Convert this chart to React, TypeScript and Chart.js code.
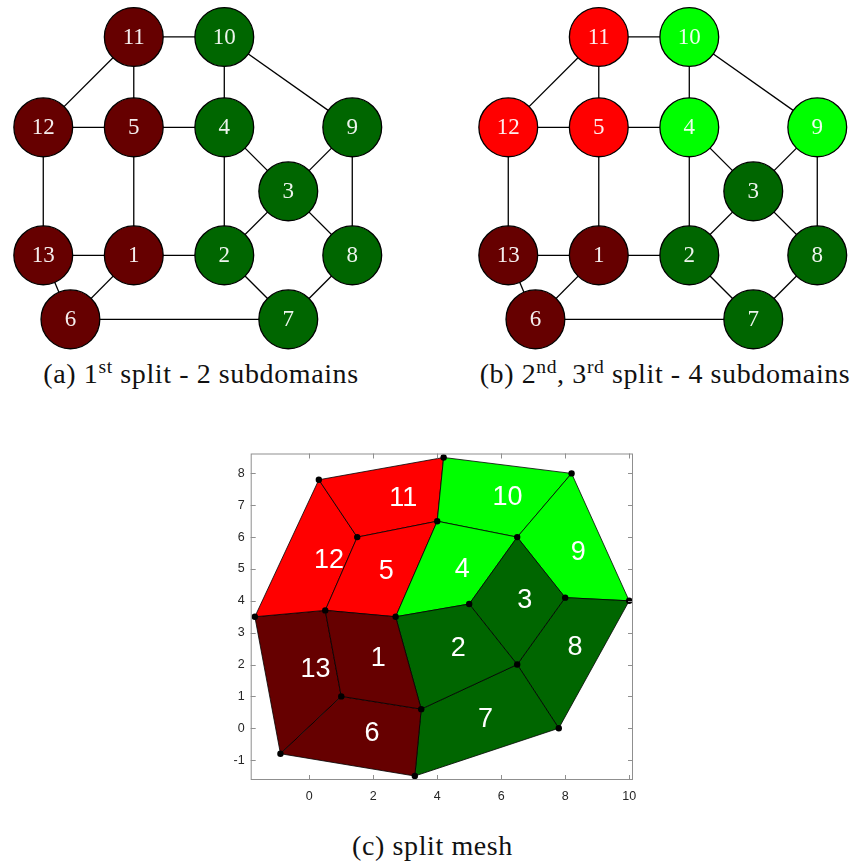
import React, { useEffect, useRef } from "react";
import { Chart, registerables } from "chart.js";

Chart.register(...registerables);

// ---- dual graph of the mesh (node n sits at index n-1) ----
const nodeNames = ["1", "2", "3", "4", "5", "6", "7", "8", "9", "10", "11", "12", "13"];
const nodeX = [1, 2, 2.707, 2, 1, 0.3, 2.707, 3.414, 3.414, 2, 1, 0, 0];
const nodeY = [0.707, 0.707, 1.414, 2.121, 2.121, 0, 0, 0.707, 2.121, 3.12, 3.12, 2.121, 0.707];
const edges: [number, number][] = [
  [11, 10], [11, 12], [11, 5], [10, 4], [10, 9], [12, 5], [5, 4], [12, 13],
  [5, 1], [4, 2], [4, 3], [9, 3], [9, 8], [3, 2], [3, 8], [13, 1], [1, 2],
  [13, 6], [1, 6], [2, 7], [8, 7], [6, 7],
];

// subdomain of every node / cell after each split
const firstSplit = [0, 3, 3, 3, 0, 0, 3, 3, 3, 3, 0, 0, 0];
const secondSplit = [0, 3, 3, 2, 1, 0, 3, 3, 2, 2, 1, 1, 0];
const subdomainColors = ["#660000", "#ff0000", "#00ff00", "#006600"];

// ---- quadrilateral mesh ----
const vertexX = [-1.7, 0.3, 4.2, 8.2, 10, 7.8, 3.3, -0.9, 1.5, 4, 6.5, 8, 6.5, 3.5, 1, 0.5, 2.7, 5];
const vertexY = [3.5, 7.8, 8.5, 8.0, 4, 0, -1.5, -0.8, 6, 6.5, 6, 4.1, 2, 0.6, 1, 3.7, 3.5, 3.9];
const cells = [
  [15, 16, 13, 14], // 1
  [16, 17, 12, 13], // 2
  [17, 10, 11, 12], // 3
  [9, 10, 17, 16], // 4
  [8, 9, 16, 15], // 5
  [7, 14, 13, 6], // 6
  [13, 12, 5, 6], // 7
  [12, 11, 4, 5], // 8
  [10, 3, 4, 11], // 9
  [9, 2, 3, 10], // 10
  [8, 1, 2, 9], // 11
  [0, 1, 8, 15], // 12
  [0, 15, 14, 7], // 13
];
const xTicks = [0, 2, 4, 6, 8, 10];
const yTicks = [-1, 0, 1, 2, 3, 4, 5, 6, 7, 8];

const serif = "'Liberation Serif', 'Times New Roman', serif";
const sans = "'Liberation Sans', Arial, Helvetica, sans-serif";

function GraphPanel({ parts, left }: { parts: number[]; left: number }) {
  const ref = useRef<HTMLCanvasElement>(null);
  useEffect(() => {
    const canvas = ref.current;
    if (!canvas) return;
    const edgeSets = edges.map(([a, b]) => ({
      type: "scatter" as const,
      data: [
        { x: nodeX[a - 1], y: nodeY[a - 1] },
        { x: nodeX[b - 1], y: nodeY[b - 1] },
      ],
      showLine: true,
      borderColor: "#000",
      borderWidth: 1.3,
      pointRadius: 0,
      clip: false,
      order: 1,
    }));
    const nodeLabels = {
      id: "nodeLabels",
      afterDatasetsDraw(chart: any) {
        const { ctx, scales } = chart;
        ctx.save();
        ctx.font = `23px ${serif}`;
        ctx.fillStyle = "rgba(255,255,255,0.93)";
        ctx.textAlign = "center";
        ctx.textBaseline = "middle";
        nodeNames.forEach((name, i) => {
          ctx.fillText(name, scales.x.getPixelForValue(nodeX[i]), scales.y.getPixelForValue(nodeY[i]) + 1);
        });
        ctx.restore();
      },
    };
    const chart = new Chart(canvas, {
      type: "scatter",
      data: {
        datasets: [
          {
            data: nodeX.map((x, i) => ({ x, y: nodeY[i] })),
            pointRadius: 29.4,
            pointBackgroundColor: parts.map((p) => subdomainColors[p]),
            pointBorderColor: "#000",
            pointBorderWidth: 1.3,
            clip: false,
            order: 0,
          },
          ...edgeSets,
        ] as any,
      },
      options: {
        responsive: false,
        animation: false,
        events: [],
        layout: { padding: 0, autoPadding: false },
        plugins: { legend: { display: false }, tooltip: { enabled: false } },
        scales: {
          x: { type: "linear", display: false, min: -0.478, max: 3.853 },
          y: { type: "linear", display: false, min: -0.361, max: 3.528 },
        },
      },
      plugins: [nodeLabels],
    });
    return () => chart.destroy();
  }, [parts]);
  return (
    <canvas
      ref={ref}
      width={392}
      height={352}
      style={{ position: "absolute", left, top: 0, width: 392, height: 352, display: "block" }}
    />
  );
}

function MeshPanel() {
  const ref = useRef<HTMLCanvasElement>(null);
  useEffect(() => {
    const canvas = ref.current;
    if (!canvas) return;
    const cellSets = cells.map((cell, k) => ({
      data: [...cell, cell[0]].map((v) => ({ x: vertexX[v], y: vertexY[v] })),
      fill: "shape",
      backgroundColor: subdomainColors[secondSplit[k]],
      borderColor: "#000",
      borderWidth: 0.8,
      pointRadius: 0,
      tension: 0,
      order: 1,
    }));
    const centroid = (cell: number[]) => ({
      x: cell.reduce((s, v) => s + vertexX[v], 0) / cell.length,
      y: cell.reduce((s, v) => s + vertexY[v], 0) / cell.length,
    });
    const axisBox = {
      id: "axisBox",
      afterDatasetsDraw(chart: any) {
        const { ctx, chartArea: a, scales } = chart;
        ctx.save();
        // cell numbers
        ctx.font = `27px ${sans}`;
        ctx.fillStyle = "#ffffff";
        ctx.textAlign = "left";
        ctx.textBaseline = "middle";
        cells.forEach((cell, k) => {
          const c = centroid(cell);
          ctx.fillText(String(k + 1), scales.x.getPixelForValue(c.x), scales.y.getPixelForValue(c.y));
        });
        // box with inward ticks
        ctx.strokeStyle = "#8f8f8f";
        ctx.lineWidth = 1;
        ctx.strokeRect(a.left + 0.5, a.top + 0.5, a.right - a.left - 1, a.bottom - a.top - 1);
        ctx.beginPath();
        xTicks.forEach((v) => {
          const px = Math.round(scales.x.getPixelForValue(v)) + 0.5;
          ctx.moveTo(px, a.bottom);
          ctx.lineTo(px, a.bottom - 5);
          ctx.moveTo(px, a.top);
          ctx.lineTo(px, a.top + 5);
        });
        yTicks.forEach((v) => {
          const py = Math.round(scales.y.getPixelForValue(v)) + 0.5;
          ctx.moveTo(a.left, py);
          ctx.lineTo(a.left + 5, py);
          ctx.moveTo(a.right, py);
          ctx.lineTo(a.right - 5, py);
        });
        ctx.stroke();
        ctx.restore();
      },
    };
    const chart = new Chart(canvas, {
      type: "line",
      data: {
        datasets: [
          {
            data: vertexX.map((x, i) => ({ x, y: vertexY[i] })),
            showLine: false,
            pointRadius: 3.2,
            pointBackgroundColor: "#000",
            pointBorderWidth: 0,
            clip: false,
            order: 0,
          },
          ...cellSets,
        ] as any,
      },
      options: {
        responsive: false,
        animation: false,
        events: [],
        layout: { padding: { top: 12, right: 17, left: 0, bottom: 0 }, autoPadding: false },
        plugins: { legend: { display: false }, tooltip: { enabled: false } },
        scales: {
          x: {
            type: "linear",
            min: -1.83,
            max: 10.12,
            grid: { display: false, drawTicks: false },
            border: { display: false },
            afterBuildTicks: (scale: any) => {
              scale.ticks = xTicks.map((value) => ({ value }));
            },
            afterFit: (scale: any) => {
              scale.height = 30;
            },
            ticks: {
              padding: 9,
              color: "#262626",
              font: { family: sans, size: 12.5 },
              maxRotation: 0,
              autoSkip: false,
            },
          },
          y: {
            type: "linear",
            min: -1.625,
            max: 8.625,
            grid: { display: false, drawTicks: false },
            border: { display: false },
            afterBuildTicks: (scale: any) => {
              scale.ticks = yTicks.map((value) => ({ value }));
            },
            afterFit: (scale: any) => {
              scale.width = 50.7;
            },
            ticks: {
              padding: 6,
              color: "#262626",
              font: { family: sans, size: 12.5 },
              autoSkip: false,
            },
          },
        },
      },
      plugins: [axisBox],
    });
    return () => chart.destroy();
  }, []);
  return (
    <canvas
      ref={ref}
      width={450}
      height={370}
      style={{ position: "absolute", left: 200, top: 440, width: 450, height: 370, display: "block" }}
    />
  );
}

const supStyle: React.CSSProperties = { fontSize: "0.7em", verticalAlign: "0.5em", lineHeight: 0 };

function Caption({ center, top, width, children }: { center: number; top: number; width: number; children: React.ReactNode }) {
  return (
    <div
      style={{
        position: "absolute",
        left: center - width / 2,
        top,
        width,
        textAlign: "center",
        fontFamily: serif,
        fontSize: 28,
        lineHeight: "30px",
        letterSpacing: "0.6px",
        color: "#111",
        whiteSpace: "nowrap",
      }}
    >
      {children}
    </div>
  );
}

export default function App() {
  return (
    <div
      style={{
        position: "absolute",
        left: 0,
        top: 0,
        width: 857,
        height: 865,
        overflow: "hidden",
        background: "#ffffff",
      }}
    >
      <GraphPanel parts={firstSplit} left={0} />
      <GraphPanel parts={secondSplit} left={465} />
      <MeshPanel />
      <Caption center={201} top={359} width={400}>
        (a) 1<sup style={supStyle}>st</sup> split - 2 subdomains
      </Caption>
      <Caption center={665} top={359} width={420}>
        (b) 2<sup style={supStyle}>nd</sup>, 3<sup style={supStyle}>rd</sup> split - 4 subdomains
      </Caption>
      <Caption center={432.5} top={831} width={300}>
        (c) split mesh
      </Caption>
    </div>
  );
}
